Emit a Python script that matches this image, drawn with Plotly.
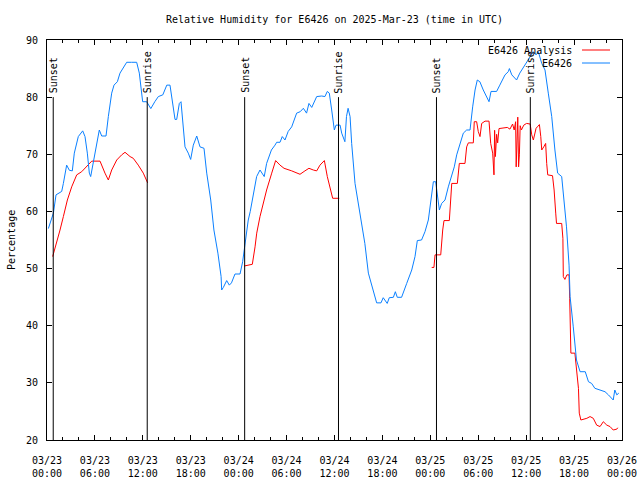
import pandas as pd
import plotly.graph_objects as go

TITLE = "Relative Humidity for E6426 on 2025-Mar-23 (time in UTC)"
START = pd.Timestamp("2025-03-23 00:00")
END = pd.Timestamp("2025-03-26 00:00")

# Observed series (hours since start, % RH)
obs_hours = [0.17, 0.8, 1.13, 1.84, 2.05, 2.46, 2.8, 3.17, 3.42, 3.92, 4.47, 4.76, 5.05, 5.3, 5.47, 5.8,
             6.14, 6.55, 6.85, 7.39, 7.68, 8.1, 8.39, 8.81, 9.14, 9.56, 9.98, 10.6, 11.23, 11.56, 11.86,
             11.98, 12.48, 13.0, 13.5, 13.94, 14.5, 15.0, 15.4, 15.74, 16.03, 16.24, 16.57, 16.78, 17.07,
             17.28, 17.69, 17.99, 18.32, 18.75, 19.16, 19.66, 20.0, 20.5, 20.9, 21.4, 21.8, 21.87, 22.08,
             22.5, 22.83, 23.1, 23.54, 24.17, 24.5, 24.8, 25.2, 25.45, 25.83, 26.25, 26.67, 27.2, 27.5,
             28.1, 28.55, 28.76, 29.18, 29.46, 29.8, 30.2, 30.64, 31.26, 31.7, 32.1, 32.5, 32.8, 33.15,
             33.77, 34.4, 34.8, 35.1, 35.35, 35.65, 35.98, 36.19, 36.7, 36.9, 37.3, 37.5, 37.7, 37.95,
             38.15, 38.57, 38.98, 39.4, 39.8, 40.24, 40.78, 41.28, 41.82, 42.1, 42.6, 42.86, 43.37, 43.62,
             43.86, 44.4, 45.04, 45.67, 46.08, 46.37, 46.9, 47.33, 47.75, 48.17, 48.38, 48.67, 48.88,
             49.13, 49.42, 49.84, 50.25, 50.68, 51.0, 51.3, 51.7, 52.13, 52.55, 52.97, 53.3, 53.6, 53.88,
             54.2, 54.63, 55.05, 55.35, 55.6, 56.3, 56.7, 57.35, 57.76, 57.9, 58.2, 58.8, 59.2, 59.98,
             60.5, 60.9, 61.24, 61.52, 61.95, 62.36, 62.77, 63.2, 63.6, 63.94, 64.45, 64.7, 65.05, 65.37,
             65.5, 65.9, 66.3, 66.75, 67.4, 67.8, 68.2, 68.6, 69.25, 69.87, 70.3, 70.9, 71.1, 71.35, 71.6]
obs_values = [57.0, 59.7, 62.9, 63.5, 64.9, 68.1, 67.2, 67.1, 70.2, 73.1, 74.1, 73.1, 70.2, 66.7, 66.1, 68.4,
              70.75, 74.25, 73.2, 73.2, 76.6, 80.7, 82.1, 82.7, 84.2, 85.05, 86.1, 86.1, 86.1, 84.2, 81.0,
              79.2, 79.2, 78.0, 79.2, 80.1, 80.4, 82.1, 82.1, 79.2, 76.1, 76.1, 78.9, 79.2, 74.8,
              71.3, 70.2, 69.1, 71.6, 73.2, 71.3, 71.05, 66.7, 62.0, 56.75, 52.7, 48.6, 46.25, 46.7,
              47.9, 47.1, 47.5, 49.05, 49.05, 51.2, 54.4, 58.5, 60.0, 63.2, 66.1, 67.25, 66.1, 68.4,
              70.75, 71.6, 72.1, 72.1, 73.1, 72.5, 74.0, 74.8, 77.2, 77.45, 78.05, 77.2, 78.9, 78.2,
              80.1, 80.2, 80.1, 81.0, 80.7, 77.75, 74.25, 75.1, 75.1, 73.7, 72.2, 76.6, 78.05, 76.6,
              71.9, 64.9, 61.4, 57.9, 54.4, 49.2, 46.25, 44.0, 44.0, 44.9, 43.9, 44.9, 44.97, 45.95,
              44.97, 44.97, 47.4, 49.75, 52.1, 54.9, 55.0, 56.45, 58.5, 63.2, 65.2, 65.2, 63.2,
              60.25, 61.4, 62.0, 64.3, 66.1, 67.8, 69.9, 71.9, 73.7, 74.25, 74.25, 78.3, 81.25, 83.0,
              82.7, 81.25, 80.1, 79.2, 81.0, 81.0, 82.1, 83.9, 84.45, 85.0, 83.9, 83.0, 84.2, 85.9,
              87.1, 87.95, 87.4, 87.95, 85.9, 84.75, 80.7, 76.6, 70.75, 66.7, 66.1, 62.6, 57.3, 50.6,
              45.1, 39.8, 34.0, 31.95, 31.95, 30.2, 29.9, 29.05, 28.75, 28.45, 27.9, 27.0, 28.75, 27.9, 28.2]

# Analysis series (three night-time segments, None = gap)
ana_hours = [0.71, 1.21, 1.63, 2.05, 2.55, 3.09, 3.72, 4.34, 4.97, 5.6, 6.01, 6.64, 7.26, 7.68, 8.1, 8.73,
             9.35, 9.77, 10.4, 10.8, 11.43, 12.06, 12.6, None,
             24.7, 25.71, 26.05, 26.26, 26.67, 27.08, 27.5, 28.14, 28.63, 29.18, 29.68, 30.64, 31.68,
             32.3, 32.8, 33.35, 33.77, 34.18, 34.73, 35.1, 35.44, 35.77, 36.6, None,
             48.17, 48.45, 48.59, 49.3, 49.55, 49.71, 50.38, 50.55, 50.68, 51.38, 51.63, 52.34, 52.55,
             52.76, 53.38, 53.5, 53.8, 54.0, 54.22, 54.43, 54.85, 55.35, 55.56, 55.81, 55.97, 56.05,
             56.15, 56.3, 56.43, 56.6, 57.13, 57.64, 57.97, 58.3, 58.5, 58.68, 58.75, 58.85, 58.95,
             59.05, 59.15, 59.25, 59.4, 59.7, 60.05, 60.5, 60.7, 60.9, 61.24, 61.4, 61.66, 61.83, 61.95,
             62.2, 62.44, 62.57, 62.7, 63.3, 63.5, 63.7, 63.8, 64.45, 64.6, 64.65, 64.85, 65.1, 65.37,
             65.45, 65.6, 66.1, 66.3, 66.55, 66.65, 66.85, 67.6, 68.0, 68.4, 68.83, 69.25, 69.66, 70.1,
             70.5, 70.9, 71.35, 71.47]
ana_values = [52.1, 54.4, 56.75, 59.1, 62.0, 64.3, 66.4, 66.95, 67.8, 68.8, 68.8, 68.8, 66.7, 65.5, 67.25, 69.0,
              69.9, 70.35, 69.6, 69.3, 68.1, 66.7, 65.0, None,
              50.45, 50.75, 53.8, 56.2, 59.1, 61.4, 63.75, 66.7, 68.9, 68.1, 67.55, 67.1, 66.5,
              67.1, 67.55, 67.25, 67.1, 68.1, 68.9, 66.1, 64.3, 62.3, 62.3, None,
              50.2, 50.2, 52.4, 52.4, 56.75, 58.4, 58.4, 63.2, 64.9, 64.9, 68.4, 68.4, 71.3,
              72.0, 72.0, 75.7, 75.7, 74.0, 73.1, 75.4, 75.8, 75.8, 71.9, 70.2, 66.4, 74.2,
              69.6, 73.5, 72.0, 74.5, 74.65, 74.7, 74.4, 75.3, 74.25, 75.7, 67.8, 75.5, 76.5,
              67.8, 69.9, 75.0, 74.25, 75.1, 75.4, 75.3, 73.4, 72.5, 74.55, 74.8, 75.2, 73.1, 70.75,
              71.3, 71.9, 68.4, 66.4, 66.25, 63.75, 59.7, 57.9, 57.9, 55.3, 48.6, 48.1, 48.9, 48.9,
              44.8, 35.2, 35.2, 32.6, 29.0, 24.7, 23.5, 23.8, 24.1, 23.8, 22.6, 22.35, 23.2, 22.6,
              22.35, 21.75, 21.9, 22.15]

# Sun events (hours since start)
event_names = ["Sunset", "Sunrise", "Sunset", "Sunrise", "Sunset", "Sunrise"]
event_hours = [0.78, 12.55, 24.75, 36.5, 48.77, 60.52]
event_top = 80
y_range = [20, 90]

obs_name = "E6426"
ana_name = "E6426 Analysis"
red = "#ff0000"
blue = "#0a80ff"
FONT = "DejaVu Sans Mono"


def to_time(hours):
    return [None if h is None else START + pd.Timedelta(hours=h) for h in hours]


fig = go.Figure()
fig.add_trace(go.Scatter(x=to_time(ana_hours), y=ana_values, mode="lines", name=ana_name,
                         line=dict(color=red, width=1), connectgaps=False, showlegend=False))
fig.add_trace(go.Scatter(x=to_time(obs_hours), y=obs_values, mode="lines", name=obs_name,
                         line=dict(color=blue, width=1), showlegend=False))

for name, t in zip(event_names, to_time(event_hours)):
    fig.add_shape(type="line", xref="x", yref="y", x0=t, x1=t, y0=y_range[0], y1=event_top,
                  line=dict(color="black", width=1))
    fig.add_annotation(x=t, y=event_top, xref="x", yref="y", text=name, textangle=-90,
                       showarrow=False, xanchor="center", yanchor="bottom", yshift=2,
                       font=dict(family=FONT, size=10, color="black"))

# Legend (gnuplot style: text right, sample line after it)
L, R, T, B = 47, 622, 40, 440
pw, ph = R - L, B - T
for i, (nm, col) in enumerate([(ana_name, red), (obs_name, blue)]):
    yp = (B - (50 + i * 13)) / ph
    fig.add_annotation(x=(574 - L) / pw, y=yp, xref="paper", yref="paper", text=nm, showarrow=False,
                       xanchor="right", yanchor="middle", font=dict(family=FONT, size=10, color="black"))
    fig.add_shape(type="line", xref="paper", yref="paper", x0=(582 - L) / pw, x1=(610 - L) / pw,
                  y0=yp, y1=yp, line=dict(color=col, width=1))

fig.add_annotation(x=(11 - L) / pw, y=0.5, xref="paper", yref="paper", text="Percentage",
                   textangle=-90, showarrow=False, xanchor="center", yanchor="middle",
                   font=dict(family=FONT, size=10, color="black"))

fig.update_layout(
    width=640, height=480,
    margin=dict(l=L, r=640 - R, t=T, b=480 - B, autoexpand=False),
    paper_bgcolor="white", plot_bgcolor="white",
    font=dict(family=FONT, size=10, color="black"),
    title=dict(text=TITLE, x=0.5, xref="paper", y=1 - 19 / 480, yref="container",
               xanchor="center", yanchor="middle", font=dict(family=FONT, size=10, color="black")),
    showlegend=False,
)
fig.update_xaxes(
    type="date", range=[START, END], dtick=6 * 3600 * 1000, tick0=START, automargin=False,
    tickformat="%m/%d<br>%H:%M", ticks="inside", ticklen=5, tickcolor="black",
    showline=True, linecolor="black", linewidth=1, mirror="ticks", showgrid=False, zeroline=False,
    ticklabelstandoff=11,
    minor=dict(dtick=2 * 3600 * 1000, tick0=START, ticks="inside", ticklen=3, tickcolor="black",
               showgrid=False),
)
fig.update_yaxes(
    range=y_range, dtick=10, ticks="inside", ticklen=5, tickcolor="black", automargin=False,
    showline=True, linecolor="black", linewidth=1, mirror="ticks", showgrid=False, zeroline=False,
    ticklabelstandoff=6,
)

fig.write_html("out.html", config={"displayModeBar": False},
               post_script="document.body.style.margin='0px';document.body.style.overflow='hidden';")
